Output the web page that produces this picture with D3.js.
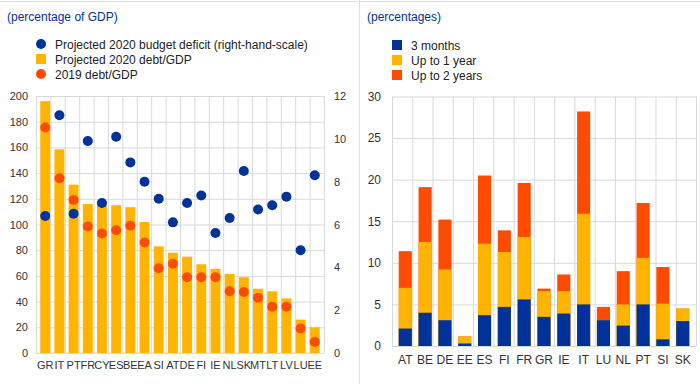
<!DOCTYPE html>
<html>
<head>
<meta charset="utf-8">
<script src="https://cdn.jsdelivr.net/npm/d3@7"></script>
<style>
  body { margin: 0; background: #fff; }
  svg { font-family: "Liberation Sans", Arial, sans-serif; }
  .grid line { stroke: #d9d9d9; }
  .grid path { display: none; }
  .tick text { fill: #333; }
</style>
</head>
<body>
<svg id="chart" width="700" height="384"></svg>
<script>
// left panel data
const countries = ['GR','IT','PT','FR','CY','ES','BE','EA','SI','AT','DE','FI','IE','NL','SK','MT','LT','LV','LU','EE'];
const debt2020 = [196, 158.5, 131, 116, 115.5, 115, 113.5, 102, 83, 78, 75, 69, 65.5, 61.5, 59, 50, 48, 42.5, 26, 20];
const debt2019 = [175.5, 136, 119, 98.5, 93, 95.5, 99, 86, 66, 69.5, 59, 59, 59, 48, 47.5, 43, 36, 36, 19, 8.5];
const deficit2020 = [6.4, 11.1, 6.5, 9.9, 7.0, 10.1, 8.9, 8.0, 7.2, 6.1, 7.0, 7.35, 5.6, 6.3, 8.5, 6.7, 6.9, 7.3, 4.8, 8.3];

// right panel data (cumulative shares)
const members = ['AT','BE','DE','EE','ES','FI','FR','GR','IE','IT','LU','NL','PT','SI','SK'];
const months3 = [2.1, 4.0, 3.1, 0.3, 3.7, 4.7, 5.6, 3.5, 3.9, 5.0, 3.1, 2.45, 5.0, 0.8, 3.0];
const upTo1y = [7.0, 12.5, 9.2, 1.15, 12.3, 11.3, 13.1, 6.6, 6.6, 15.9, 3.1, 5.0, 10.6, 5.1, 4.5];
const upTo2y = [11.4, 19.1, 15.2, 1.15, 20.5, 13.9, 19.6, 6.9, 8.6, 28.2, 4.7, 9.0, 17.2, 9.5, 4.5];

const blue = '#003299', yellow = '#ffb400', orange = '#ff4b00';
const svg = d3.select('#chart');

// panel frame
svg.append('line').attr('x1', 0).attr('x2', 700).attr('y1', 1.5).attr('y2', 1.5).attr('stroke', '#e0e0e0');
svg.append('line').attr('x1', 359.5).attr('x2', 359.5).attr('y1', 0).attr('y2', 384).attr('stroke', '#e0e0e0');

// ---------- left chart ----------
const x1 = d3.scaleBand().domain(countries).range([36, 324]).padding(0.3);
const yL = d3.scaleLinear().domain([0, 200]).range([353, 96]);
const yR = d3.scaleLinear().domain([0, 12]).range([353, 96]);

svg.append('text').text('(percentage of GDP)')
  .attr('x', 7).attr('y', 21).attr('fill', blue).style('font-size', '12px');

// grid
svg.append('g').attr('class', 'grid')
  .attr('transform', 'translate(36,0)')
  .call(d3.axisLeft(yL).ticks(10).tickSize(-288).tickFormat(''));
svg.append('g').attr('class', 'grid')
  .attr('transform', 'translate(0,96)')
  .call(d3.axisBottom(d3.scaleLinear().domain([0, 20]).range([36, 324])).ticks(20).tickSize(257).tickFormat(''));

// axes labels
svg.append('g').attr('transform', 'translate(31,0)')
  .call(d3.axisLeft(yL).ticks(10).tickSize(0))
  .call(g => g.select('.domain').remove())
  .selectAll('text').style('font-size', '11px');
svg.append('g').attr('transform', 'translate(331,0)')
  .call(d3.axisRight(yR).ticks(6).tickSize(0))
  .call(g => g.select('.domain').remove())
  .selectAll('text').style('font-size', '11px');
svg.append('g').attr('transform', 'translate(0,353)')
  .call(d3.axisBottom(x1).tickSize(0).tickPadding(8))
  .call(g => g.select('.domain').remove())
  .selectAll('text').style('font-size', '11px');

// bars and dots
svg.append('g').selectAll('rect').data(debt2020).join('rect')
  .attr('x', (d, i) => x1(countries[i]))
  .attr('width', x1.bandwidth())
  .attr('y', d => yL(d))
  .attr('height', d => yL(0) - yL(d))
  .attr('fill', yellow);
svg.append('g').selectAll('circle').data(debt2019).join('circle')
  .attr('cx', (d, i) => x1(countries[i]) + x1.bandwidth() / 2)
  .attr('cy', d => yL(d))
  .attr('r', 5)
  .attr('fill', orange);
svg.append('g').selectAll('circle').data(deficit2020).join('circle')
  .attr('cx', (d, i) => x1(countries[i]) + x1.bandwidth() / 2)
  .attr('cy', d => yR(d))
  .attr('r', 5)
  .attr('fill', blue);

// legend
const legL = [
  {label: 'Projected 2020 budget deficit (right-hand-scale)', color: blue, shape: 'circle'},
  {label: 'Projected 2020 debt/GDP', color: yellow, shape: 'rect'},
  {label: '2019 debt/GDP', color: orange, shape: 'circle'}
];
legL.forEach((d, i) => {
  const g = svg.append('g').attr('transform', `translate(41,${44 + i * 15})`);
  if (d.shape === 'circle') g.append('circle').attr('r', 5).attr('fill', d.color);
  else g.append('rect').attr('x', -5).attr('y', -5).attr('width', 10).attr('height', 10).attr('fill', d.color);
  g.append('text').text(d.label).attr('x', 14).attr('y', 4.5).attr('fill', '#222').style('font-size', '12px');
});

// ---------- right chart ----------
const x2 = d3.scaleBand().domain(members).range([392, 696]).padding(0.34);
const y2 = d3.scaleLinear().domain([0, 30]).range([346, 96.5]);

svg.append('text').text('(percentages)')
  .attr('x', 367).attr('y', 21).attr('fill', blue).style('font-size', '12px');

svg.append('g').attr('class', 'grid')
  .attr('transform', 'translate(392,0)')
  .call(d3.axisLeft(y2).ticks(6).tickSize(-304).tickFormat(''));
svg.append('g').attr('class', 'grid')
  .attr('transform', 'translate(0,96.5)')
  .call(d3.axisBottom(d3.scaleLinear().domain([0, 15]).range([392, 696])).ticks(15).tickSize(249.5).tickFormat(''));

svg.append('g').attr('transform', 'translate(384,0)')
  .call(d3.axisLeft(y2).ticks(6).tickSize(0))
  .call(g => g.select('.domain').remove())
  .selectAll('text').style('font-size', '12px');
svg.append('g').attr('transform', 'translate(0,346)')
  .call(d3.axisBottom(x2).tickSize(0).tickPadding(9))
  .call(g => g.select('.domain').remove())
  .selectAll('text').style('font-size', '12px');

// overlapping cumulative bars, longest first
[[upTo2y, orange], [upTo1y, yellow], [months3, blue]].forEach(([vals, color]) => {
  svg.append('g').selectAll('rect').data(vals).join('rect')
    .attr('x', (d, i) => x2(members[i]))
    .attr('width', x2.bandwidth())
    .attr('y', d => y2(d))
    .attr('height', d => y2(0) - y2(d))
    .attr('fill', color);
});

const legR = [['3 months', blue], ['Up to 1 year', yellow], ['Up to 2 years', orange]];
legR.forEach(([label, color], i) => {
  const g = svg.append('g').attr('transform', `translate(392,${40 + i * 15})`);
  g.append('rect').attr('width', 10).attr('height', 10).attr('fill', color);
  g.append('text').text(label).attr('x', 19).attr('y', 9.5).attr('fill', '#222').style('font-size', '12px');
});
</script>
</body>
</html>
